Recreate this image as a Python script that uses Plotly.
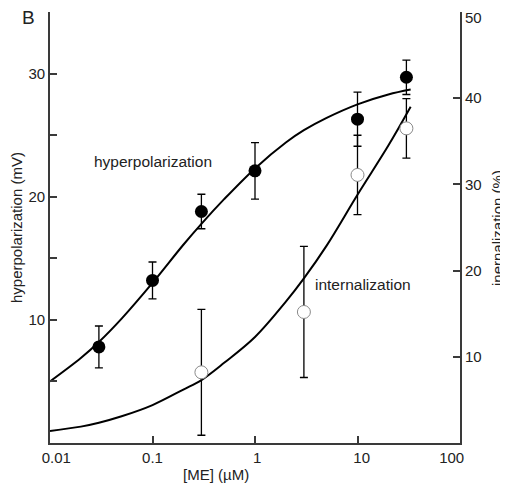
import plotly.graph_objects as go

# ---- data ----
conc_hyper = [0.03, 0.1, 0.3, 1, 10, 30]
hyper_mv = [7.8, 13.2, 18.8, 22.1, 26.3, 29.7]
hyper_err = [1.7, 1.5, 1.4, 2.3, 2.2, 1.4]

conc_int = [0.3, 3, 10, 30]
int_pct = [8.2, 15.2, 31.1, 36.5]
int_err = [7.3, 7.6, 4.6, 3.45]

curve_x = [0.01, 0.02, 0.03, 0.05, 0.1, 0.2, 0.3, 0.5, 1, 2, 3, 5, 10, 20, 33]
hyper_curve = [5.0, 6.9, 8.2, 10.1, 13.0, 16.1, 17.8, 19.8, 22.3, 24.4, 25.4, 26.4, 27.5, 28.3, 28.7]
int_curve = [1.4, 1.9, 2.35, 3.1, 4.4, 6.2, 7.3, 9.3, 12.3, 16.4, 19.1, 22.9, 28.8, 34.5, 39.0]

NB = "\u00a0"
x_ticks = [0.01, 0.1, 1, 10, 100]
x_ticklabels = [NB * 3 + "0.01", "0.1", NB + "1", NB * 2 + "10", "100" + NB * 4]
left_ticks = [5, 10, 15, 20, 25, 30, 35]
left_ticklabels = ["", "10", "", "20", "", "30", ""]
right_ticks = [10, 20, 30, 40, 50]
right_ticklabels = ["10", "20", "30", "40", ""]
right_top_label = "50"  # drawn just below the top tick, as in the reference

FONT = "Liberation Sans, Arial, Helvetica, sans-serif"
AX = "#3a3a3a"
W, H = 508, 486
OFF = 8  # browser default body margin
# target plot area on screen: x 50..460, y 12..443
ML, MT = 50 - OFF, 12 - OFF
MR = W - (460 - OFF)
MB = H - (443 - OFF)
PW, PH = W - ML - MR, H - MT - MB


def px(xs):
    return (xs - OFF - ML) / PW


def py(ys):
    return (H - MB - (ys - OFF)) / PH


fig = go.Figure()

fig.add_trace(go.Scatter(x=curve_x, y=hyper_curve, mode="lines",
                         line=dict(color="black", width=2, shape="spline", smoothing=1),
                         showlegend=False, hoverinfo="skip"))
fig.add_trace(go.Scatter(x=curve_x, y=int_curve, mode="lines", yaxis="y2",
                         line=dict(color="black", width=2, shape="spline", smoothing=1),
                         showlegend=False, hoverinfo="skip"))

fig.add_trace(go.Scatter(x=conc_int, y=int_pct, mode="markers", yaxis="y2",
                         marker=dict(symbol="circle", size=13, color="white",
                                     line=dict(color="#8a8a8a", width=1)),
                         error_y=dict(type="data", array=int_err, color="black",
                                      thickness=1.3, width=4),
                         showlegend=False))
fig.add_trace(go.Scatter(x=conc_hyper, y=hyper_mv, mode="markers",
                         marker=dict(symbol="circle", size=13, color="black",
                                     line=dict(color="black", width=0)),
                         error_y=dict(type="data", array=hyper_err, color="black",
                                      thickness=1.3, width=4),
                         showlegend=False))

TICKFONT = dict(family=FONT, size=15, color="#222")
common_axis = dict(showline=True, linecolor=AX, linewidth=1.8, ticks="inside",
                   ticklen=7, tickwidth=1.5, tickcolor=AX, showgrid=False,
                   zeroline=False, automargin=False, ticklabeloverflow="allow",
                   tickfont=TICKFONT)

tf = dict(family=FONT, size=15, color="#222")
lf = dict(family=FONT, size=15.5, color="#222")


def ann(text, xs, ys, font=tf, angle=0, xanchor="center"):
    return dict(text=text, x=px(xs), y=py(ys), xref="paper", yref="paper",
                xanchor=xanchor, yanchor="middle", showarrow=False,
                textangle=angle, font=font)


fig.update_layout(
    width=W, height=H,
    margin=dict(l=ML, r=MR, t=MT, b=MB, autoexpand=False),
    paper_bgcolor="white", plot_bgcolor="white",
    font=dict(family=FONT, color="#222"),
    xaxis=dict(type="log", range=[-2, 2], tickvals=x_ticks, ticktext=x_ticklabels,
               **common_axis),
    yaxis=dict(range=[0, 35], tickvals=left_ticks, ticktext=left_ticklabels,
               **common_axis),
    yaxis2=dict(range=[0, 50], tickvals=right_ticks, ticktext=right_ticklabels,
                overlaying="y", side="right", anchor="x", **common_axis),
    annotations=[
        ann("B", 28, 17, font=dict(family=FONT, size=19, color="#222")),
        ann(right_top_label, 463, 18, font=TICKFONT, xanchor="left"),
        ann("hyperpolarization", 153, 162, font=lf),
        ann("internalization", 363, 284, font=lf),
        ann("[ME] (µM)", 216, 474, font=tf),
        ann("hyperpolarization (mV)", 16, 228, angle=-90, font=tf),
        ann("inernalization (%)", 497, 228, angle=-90, font=tf),
    ],
)

fig.write_html("out.html")
